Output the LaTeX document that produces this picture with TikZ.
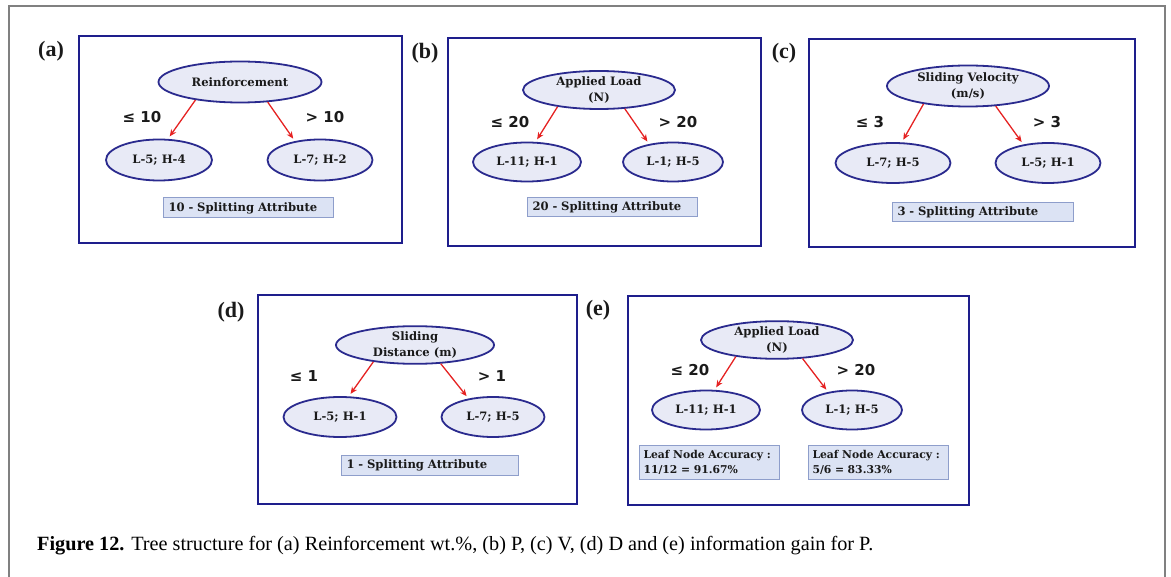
\documentclass[tikz,border=0pt]{standalone}
\usepackage{fontspec}
\usepackage{graphicx}
\setmainfont{Liberation Serif}
\newfontfamily\dvs{DejaVu Serif}
\newfontfamily\dvsans{DejaVu Sans}
\usetikzlibrary{arrows.meta,shapes.geometric}
\definecolor{boxblue}{HTML}{1E1E8C}
\definecolor{ellblue}{HTML}{2A2A8E}
\definecolor{ellfill}{HTML}{E8EAF6}
\definecolor{splitb}{HTML}{8E9ECB}
\definecolor{splitf}{HTML}{DCE3F4}
\definecolor{arrred}{HTML}{E52222}
\definecolor{textc}{HTML}{1A1A1A}
\begin{document}
\begin{tikzpicture}[x=1pt,y=-1pt,
  panel/.style={draw=boxblue, line width=2.8pt},
  tnode/.style={ellipse, draw=ellblue, line width=1.8pt, fill=ellfill, inner sep=0pt,
    align=center, text=textc, font=\dvs\bfseries\fontsize{11.6}{16}\selectfont},
  lab/.style={text=textc, font=\dvsans\bfseries\fontsize{15}{15}\selectfont},
  plab/.style={text=textc, font=\bfseries\fontsize{22}{22}\selectfont},
  splitbox/.style={draw=splitb, fill=splitf, line width=1pt, rectangle, anchor=west,
    inner xsep=5pt, inner ysep=0pt, align=left, text=textc,
    font=\dvs\bfseries\fontsize{11.6}{14}\selectfont},
  accbox/.style={splitbox, inner xsep=4pt, text width=132pt, minimum height=33pt,
    font=\dvs\bfseries\fontsize{10.8}{15}\selectfont},
  arr/.style={draw=arrred, line width=1.3pt, -{Stealth[length=7pt,width=6pt]}, shorten >=3pt}
]
\useasboundingbox (0,0) rectangle (1171,577);
\draw[draw=gray, line width=1.5pt] (9,577) -- (9,6) -- (1165,6) -- (1165,577);

% ---------- (a)
\draw[panel] (79,36) rectangle (402,243);
\node[plab] (la) at (51,51) {(a)};
\node[tnode, minimum width=163pt, minimum height=41pt] (ra) at (240,82) {Reinforcement};
\node[tnode, minimum width=106pt, minimum height=41pt] (a1) at (159,160) {L-5; H-4};
\node[tnode, minimum width=105pt, minimum height=41pt] (a2) at (320,160) {L-7; H-2};
\node[lab] (ea1) at (142,117) {≤ 10};
\node[lab] (ea2) at (325,117) {> 10};
\draw[arr] (ra.202) -- (a1.67);
\draw[arr] (ra.324) -- (a2.143);
\node[splitbox, text width=160pt, minimum height=20pt] (sa) at (163,208) {10 - Splitting Attribute};

% ---------- (b)
\draw[panel] (448,38) rectangle (761,246);
\node[plab] (lb) at (425,53) {(b)};
\node[tnode, minimum width=152pt, minimum height=38pt] (rb) at (599,90) {Applied Load\\(N)};
\node[tnode, minimum width=108pt, minimum height=39pt] (b1) at (527,162) {L-11; H-1};
\node[tnode, minimum width=100pt, minimum height=39pt] (b2) at (673,162) {L-1; H-5};
\node[lab] (eb1) at (510,122) {≤ 20};
\node[lab] (eb2) at (678,122) {> 20};
\draw[arr] (rb.202) -- (b1.67);
\draw[arr] (rb.324) -- (b2.143);
\node[splitbox, text width=160pt, minimum height=19pt] (sb) at (527,207.5) {20 - Splitting Attribute};

% ---------- (c)
\draw[panel] (809,39) rectangle (1135,247);
\node[plab] (lc) at (784,53) {(c)};
\node[tnode, minimum width=162pt, minimum height=41pt] (rc) at (968,86) {Sliding Velocity\\(m/s)};
\node[tnode, minimum width=115pt, minimum height=40pt] (c1) at (893,163) {L-7; H-5};
\node[tnode, minimum width=105pt, minimum height=40pt] (c2) at (1048,163) {L-5; H-1};
\node[lab] (ec1) at (870,122) {≤ 3};
\node[lab] (ec2) at (1047,122) {> 3};
\draw[arr] (rc.202) -- (c1.67);
\draw[arr] (rc.324) -- (c2.143);
\node[splitbox, text width=171pt, minimum height=19pt] (sc) at (892,212.5) {3 - Splitting Attribute};

% ---------- (d)
\draw[panel] (258,295) rectangle (577,504);
\node[plab] (ld) at (231,312) {(d)};
\node[tnode, minimum width=158pt, minimum height=37pt] (rd) at (415,345) {Sliding\\Distance (m)};
\node[tnode, minimum width=113pt, minimum height=40pt] (d1) at (340,417) {L-5; H-1};
\node[tnode, minimum width=103pt, minimum height=40pt] (d2) at (493,417) {L-7; H-5};
\node[lab] (ed1) at (304,376) {≤ 1};
\node[lab] (ed2) at (492,376) {> 1};
\draw[arr] (rd.202) -- (d1.67);
\draw[arr] (rd.324) -- (d2.143);
\node[splitbox, text width=167pt, minimum height=19pt] (sd) at (341,465.5) {1 - Splitting Attribute};

% ---------- (e)
\draw[panel] (628,296) rectangle (969,505);
\node[plab] (le) at (598,310) {(e)};
\node[tnode, minimum width=152pt, minimum height=36pt] (re) at (777,340) {Applied Load\\(N)};
\node[tnode, minimum width=108pt, minimum height=39pt] (e1) at (706,410) {L-11; H-1};
\node[tnode, minimum width=100pt, minimum height=39pt] (e2) at (852,410) {L-1; H-5};
\node[lab] (ee1) at (690,370) {≤ 20};
\node[lab] (ee2) at (856,370) {> 20};
\draw[arr] (re.202) -- (e1.67);
\draw[arr] (re.324) -- (e2.143);
\node[accbox] (ae1) at (639,462.5) {Leaf Node Accuracy :\\11/12 = 91.67\%};
\node[accbox] (ae2) at (808,462.5) {Leaf Node Accuracy :\\5/6 = 83.33\%};

% ---------- caption
\node[anchor=west, inner sep=0pt, text=black] (cap) at (37,546)
  {\resizebox{836pt}{!}{\fontsize{16}{16}\selectfont\textbf{Figure 12.} Tree structure for (a) Reinforcement wt.\%, (b) P, (c) V, (d) D and (e) information gain for P.}};
\end{tikzpicture}
\end{document}
